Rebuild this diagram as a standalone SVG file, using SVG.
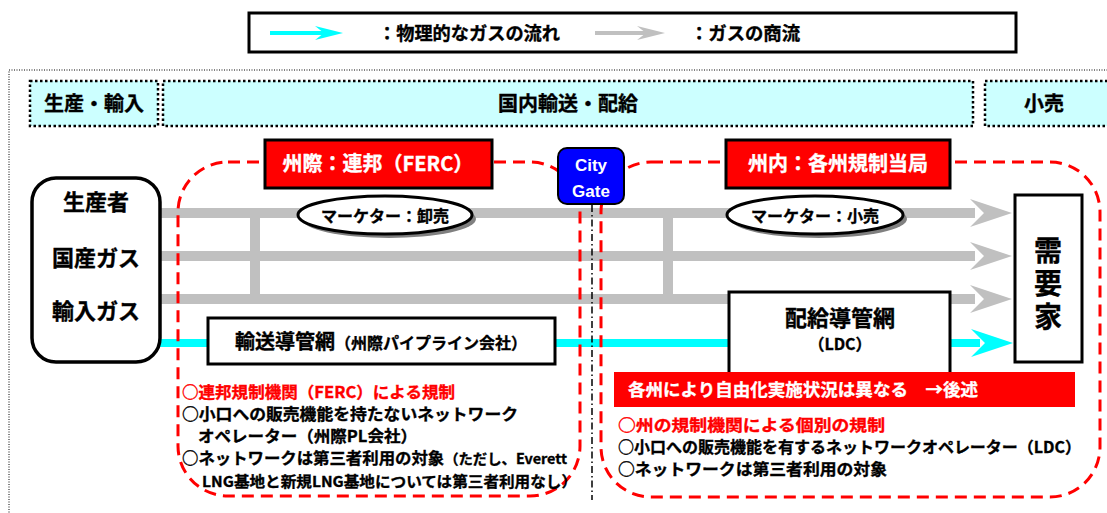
<svg xmlns="http://www.w3.org/2000/svg" width="1107" height="513" viewBox="0 0 1107 513">
<style>
.jp{font-family:"Noto Sans CJK JP","Noto Sans",sans-serif;font-weight:bold;stroke-width:0.35;}
.lat{font-family:"Liberation Sans",Arial,sans-serif;font-weight:bold;}
.hdr{fill:#CCFFFF;stroke:#000;stroke-width:2.5;stroke-dasharray:2.5 2.5;}
.gray{stroke:#C0C0C0;stroke-width:10;fill:none;}
.cyan{stroke:#00FFFF;stroke-width:8;fill:none;}
.region{fill:none;stroke:#FF0000;stroke-width:3;stroke-dasharray:12 7;}
.box{fill:#fff;stroke:#000;stroke-width:3;}
.redbox{fill:#FF0000;stroke:#000;stroke-width:3;}
.w{fill:#fff;stroke:#fff;}
.r{fill:#FF0000;stroke:#FF0000;}
.k{fill:#000;stroke:#000;}
</style>
<defs>
<polygon id="headG" points="-42,-14 0,0 -42,14 -28,0" fill="#C0C0C0"/>
<polygon id="headC" points="-42,-14 0,0 -42,14 -28,0" fill="#00FFFF"/>
</defs>
<rect x="0" y="0" width="1107" height="513" fill="#fff"/>

<!-- legend -->
<g id="legend">
<rect x="249" y="13" width="767" height="39" fill="#fff" stroke="#000" stroke-width="3"/>
<line x1="270" y1="33" x2="330" y2="33" stroke="#00FFFF" stroke-width="4"/>
<polygon points="315,26 343,33 315,40 324,33" fill="#00FFFF"/>
<text class="jp k" x="378" y="40" font-size="18" textLength="182" lengthAdjust="spacingAndGlyphs">：物理的なガスの流れ</text>
<line x1="595" y1="33" x2="652" y2="33" stroke="#C0C0C0" stroke-width="4"/>
<polygon points="637,26 665,33 637,40 646,33" fill="#C0C0C0"/>
<text class="jp k" x="690" y="40" font-size="18" textLength="110" lengthAdjust="spacingAndGlyphs">：ガスの商流</text>
</g>

<!-- outer frame -->
<rect x="9" y="70" width="1120" height="460" fill="none" stroke="#000" stroke-width="1" stroke-dasharray="1 1.5"/>

<!-- headers -->
<g id="hdr-production">
<rect class="hdr" x="30" y="81" width="128" height="45"/>
<text class="jp k" x="94" y="111" font-size="20" text-anchor="middle">生産・輸入</text>
</g>
<g id="hdr-domestic">
<rect class="hdr" x="163" y="81" width="810" height="45"/>
<text class="jp k" x="568" y="111" font-size="20" text-anchor="middle">国内輸送・配給</text>
</g>
<g id="hdr-retail">
<rect class="hdr" x="985" y="81" width="140" height="45"/>
<text class="jp k" x="1044" y="111" font-size="20" text-anchor="middle">小売</text>
</g>

<!-- connectors -->
<g id="connectors">
<line class="gray" x1="160" y1="213" x2="975" y2="213"/>
<line class="gray" x1="160" y1="256" x2="975" y2="256"/>
<line class="gray" x1="160" y1="299" x2="975" y2="299"/>
<line class="gray" x1="255" y1="213" x2="255" y2="299"/>
<line class="gray" x1="668" y1="213" x2="668" y2="299"/>
<use href="#headG" x="1012" y="213"/>
<use href="#headG" x="1012" y="256"/>
<use href="#headG" x="1012" y="299"/>
<line class="cyan" x1="160" y1="343" x2="980" y2="343"/>
<use href="#headC" x="1013" y="343"/>
</g>

<!-- regions -->
<g id="region-interstate">
<rect class="region" x="178" y="162" width="402" height="334" rx="50" ry="50"/>
</g>
<g id="region-intrastate">
<rect class="region" x="601" y="162" width="499" height="335" rx="50" ry="50"/>
</g>
<line x1="592" y1="205" x2="592" y2="500" stroke="#000" stroke-width="1.5" stroke-dasharray="7 3 1.5 3"/>

<!-- producer box -->
<g id="producers">
<rect x="32" y="178" width="128" height="184" rx="24" ry="24" fill="#fff" stroke="#000" stroke-width="3.5"/>
<text class="jp k" x="96" y="210" font-size="22" text-anchor="middle">生産者</text>
<text class="jp k" x="96" y="266" font-size="22" text-anchor="middle">国産ガス</text>
<text class="jp k" x="96" y="319" font-size="22" text-anchor="middle">輸入ガス</text>
</g>

<!-- red title boxes -->
<g id="ferc">
<rect class="redbox" x="265" y="140" width="227" height="48"/>
<text class="jp w" x="378" y="171" font-size="20" text-anchor="middle">州際：連邦（FERC）</text>
</g>
<g id="state">
<rect class="redbox" x="726" y="140" width="224" height="48"/>
<text class="jp w" x="838" y="171" font-size="20" text-anchor="middle">州内：各州規制当局</text>
</g>

<!-- city gate -->
<g id="citygate">
<rect x="558" y="148" width="66" height="56" rx="9" ry="9" fill="#0000FF" stroke="#000" stroke-width="2"/>
<text class="lat" fill="#fff" x="591" y="171" font-size="17" text-anchor="middle">City</text>
<text class="lat" fill="#fff" x="591" y="197" font-size="17" text-anchor="middle">Gate</text>
</g>

<!-- marketers -->
<g id="marketer-wholesale">
<ellipse cx="389" cy="219" rx="87" ry="19" fill="#808080"/>
<ellipse cx="385" cy="215" rx="87" ry="19" fill="#fff" stroke="#000" stroke-width="3"/>
<text class="jp k" x="385" y="222" font-size="16" text-anchor="middle">マーケター：卸売</text>
</g>
<g id="marketer-retail">
<ellipse cx="819" cy="219" rx="88" ry="19" fill="#808080"/>
<ellipse cx="815" cy="215" rx="88" ry="19" fill="#fff" stroke="#000" stroke-width="3"/>
<text class="jp k" x="815" y="222" font-size="16" text-anchor="middle">マーケター：小売</text>
</g>

<!-- pipelines -->
<g id="transmission">
<rect class="box" x="208" y="318" width="347" height="46"/>
<text class="jp k" x="381" y="349" text-anchor="middle"><tspan font-size="20">輸送導管網</tspan><tspan font-size="16">（州際パイプライン会社）</tspan></text>
</g>
<g id="distribution">
<rect class="box" x="729" y="292" width="221" height="84"/>
<text class="jp k" x="840" y="326" font-size="22" text-anchor="middle">配給導管網</text>
<text class="jp k" x="840" y="350" font-size="16" text-anchor="middle">（LDC）</text>
</g>

<!-- consumers -->
<g id="consumers">
<rect class="box" x="1015" y="195" width="67" height="167"/>
<text class="jp k" x="1048" y="236" font-size="28" writing-mode="vertical-rl" letter-spacing="5">需要家</text>
</g>

<!-- banner -->
<g id="banner">
<rect x="614" y="372" width="461" height="35" fill="#FF0000"/>
<text class="jp w" x="628" y="396" font-size="17" textLength="350" lengthAdjust="spacingAndGlyphs">各州により自由化実施状況は異なる　→後述</text>
</g>

<!-- notes left -->
<g id="notes-federal">
<text class="jp r" x="182" y="398" font-size="16" textLength="273" lengthAdjust="spacingAndGlyphs">○連邦規制機関（FERC）による規制</text>
<text class="jp k" x="182" y="420" font-size="16" textLength="336" lengthAdjust="spacingAndGlyphs">○小口への販売機能を持たないネットワーク</text>
<text class="jp k" x="198" y="442" font-size="16" textLength="219" lengthAdjust="spacingAndGlyphs">オペレーター（州際PL会社）</text>
<text class="jp k" x="182" y="464" font-size="16" textLength="385" lengthAdjust="spacingAndGlyphs">○ネットワークは第三者利用の対象<tspan font-size="14">（ただし、Everett</tspan></text>
<text class="jp k" x="202" y="487" font-size="15" textLength="375" lengthAdjust="spacingAndGlyphs">LNG基地と新規LNG基地については第三者利用なし）</text>
</g>

<!-- notes right -->
<g id="notes-state">
<text class="jp r" x="618" y="431" font-size="16" textLength="267" lengthAdjust="spacingAndGlyphs">○州の規制機関による個別の規制</text>
<text class="jp k" x="618" y="453" font-size="16" textLength="463" lengthAdjust="spacingAndGlyphs">○小口への販売機能を有するネットワークオペレーター（LDC）</text>
<text class="jp k" x="618" y="475" font-size="16" textLength="269" lengthAdjust="spacingAndGlyphs">○ネットワークは第三者利用の対象</text>
</g>
</svg>
